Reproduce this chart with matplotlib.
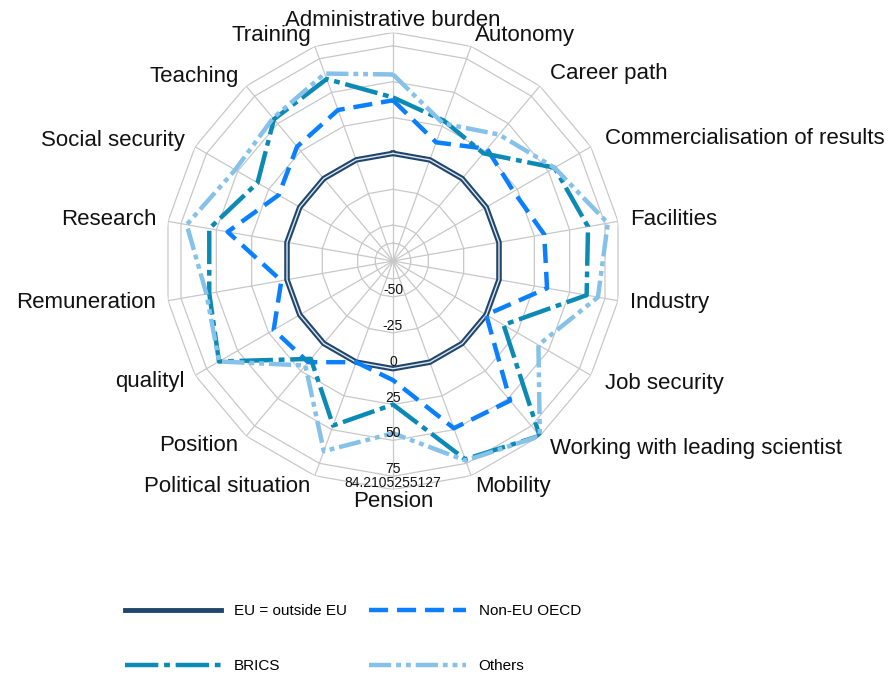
import numpy as np
import matplotlib
matplotlib.use("Agg")
import matplotlib.pyplot as plt
import matplotlib.patheffects as pe
from matplotlib.lines import Line2D

plt.rcParams['font.family'] = ['Liberation Sans', 'DejaVu Sans']

categories = ["Administrative burden", "Autonomy", "Career path",
              "Commercialisation of results", "Facilities", "Industry",
              "Job security", "Working with leading scientist", "Mobility",
              "Pension", "Political situation", "Position", "qualityl",
              "Remuneration", "Research", "Social security", "Teaching",
              "Training"]

eu_outside = [0, 0, 0, 0, 0, 0, 0, 0, 0, 0, 0, 0, 0, 0, 0, 0, 0, 0]
non_eu_oecd = [37, 13, 27, 22, 32, 34, 0, 52, 49, 8, 0, 17, 21, 4, 42, 17, 29, 37]
brics = [39, 29, 23, 55, 63, 62, 14, 84, 72, 25, 47, 14, 65, 55, 55, 34, 54, 60]
others = [55, 27, 40, 55, 77, 70, 42, 84.2, 73, 45, 66, 20, 65, 57, 71, 52, 55, 64]

r_min = -75
r_max = 84.2105255127
ring_values = [-62.5, -50, -25, 0, 25, 50, 75, r_max]
tick_values = [-50, -25, 0, 25, 50, 75, r_max]
tick_labels = ["-50", "-25", "0", "25", "50", "75", "84.2105255127"]

n = len(categories)
angles = np.arange(n) * 2 * np.pi / n
closed = np.append(angles, angles[0])


def close(v):
    return list(v) + [v[0]]


fig = plt.figure(figsize=(8.95, 6.75), dpi=100)
ax = fig.add_axes([0.1838, 0.2748, 0.5106, 0.677], projection='polar')
ax.set_theta_zero_location('N')
ax.set_theta_direction(-1)
ax.set_ylim(r_min, r_max)
ax.grid(False)
ax.set_xticks([])
ax.set_yticks([])
ax.spines['polar'].set_visible(False)

# spider grid
for rv in ring_values:
    ax.plot(closed, [rv] * (n + 1), color='#c8c8c8', lw=0.9, zorder=1)
for a in angles:
    ax.plot([a, a], [r_min, r_max], color='#c8c8c8', lw=0.9, zorder=1)

navy = '#21466b'
ax.plot(closed, close(eu_outside), color='#dce6ef', lw=1.0, zorder=3,
        path_effects=[pe.Stroke(linewidth=4, foreground=navy), pe.Normal()])
l_oecd, = ax.plot(closed, close(non_eu_oecd), color='#0a80ff', lw=3.2, zorder=4,
                  dashes=(4.3, 2.0))
l_brics, = ax.plot(closed, close(brics), color='#0a8ab4', lw=3.2, zorder=4,
                   dashes=(7.5, 1.3, 1.3, 1.3))
l_others, = ax.plot(closed, close(others), color='#85c1e9', lw=3.2, zorder=4,
                    dashes=(5, 1.1, 1.1, 1.1, 1.1, 1.1))
l_eu = Line2D([], [], color=navy, lw=3.5)

# category labels
for i, cat in enumerate(categories):
    deg = i * 360 / n
    if deg == 0 or deg == 180:
        ha = 'center'
    elif deg < 180:
        ha = 'left'
    else:
        ha = 'right'
    r_lab = 92.5
    if deg in (40, 60, 120, 140):
        r_lab = 95.5
    ax.text(angles[i], r_lab, cat, ha=ha, va='center', fontsize=16,
            color='#111111')

# radial labels on the bottom spoke
for v, t in zip(tick_values, tick_labels):
    ax.text(np.pi, v, t, ha='center', va='bottom', fontsize=10,
            color='#111111', zorder=5)

fig.legend([l_eu, l_brics, l_oecd, l_others],
           ['EU = outside EU', 'BRICS', 'Non-EU OECD', 'Others'],
           loc='upper left', bbox_to_anchor=(125 / 895, 1 - 604 / 675),
           ncol=2, frameon=False, fontsize=11, handlelength=6.3,
           handletextpad=0.85, columnspacing=1.45, labelspacing=2.7,
           borderpad=0, borderaxespad=0)

fig.savefig('out.png', dpi=100)
